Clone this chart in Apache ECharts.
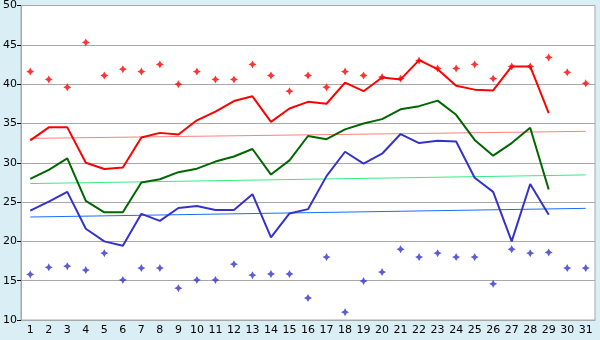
<!DOCTYPE html>
<html>
<head>
<meta charset="utf-8">
<script src="https://cdn.jsdelivr.net/npm/echarts@6/dist/echarts.min.js"></script>
<style>
  html, body { margin: 0; padding: 0; background: #daeef5; }
  #container { width: 600px; height: 340px; }
</style>
</head>
<body>
<div id="container"></div>
<script>
var days = ['1','2','3','4','5','6','7','8','9','10','11','12','13','14','15','16',
            '17','18','19','20','21','22','23','24','25','26','27','28','29','30','31']

// daily lines (1-29)
var maxLine = [32.85, 34.5, 34.5, 30.0, 29.2, 29.4, 33.2, 33.8, 33.6, 35.4, 36.5, 37.85, 38.45, 35.2, 36.9,
               37.75, 37.5, 40.2, 39.1, 40.85, 40.6, 43.05, 41.9, 39.8, 39.3, 39.2, 42.25, 42.25, 36.3]
var meanLine = [27.95, 29.1, 30.55, 25.15, 23.7, 23.7, 27.5, 27.9, 28.8, 29.25, 30.15, 30.8, 31.75, 28.5, 30.3,
                33.4, 33.0, 34.25, 35.0, 35.55, 36.8, 37.2, 37.9, 36.1, 32.9, 30.9, 32.5, 34.45, 26.6]
var minLine = [23.9, 25.05, 26.3, 21.6, 20.0, 19.45, 23.5, 22.6, 24.25, 24.5, 24.0, 24.0, 26.0, 20.5, 23.55,
               24.1, 28.3, 31.4, 29.9, 31.15, 33.65, 32.5, 32.8, 32.7, 28.1, 26.3, 20.0, 27.3, 23.4]

// record points (1-31)
var maxRecord = [41.6, 40.6, 39.6, 45.3, 41.1, 41.9, 41.6, 42.5, 40.0, 41.6, 40.6, 40.6, 42.5, 41.1, 39.1, 41.1,
                 39.6, 41.6, 41.1, 40.9, 40.7, 43.0, 42.0, 42.0, 42.5, 40.7, 42.25, 42.25, 43.4, 41.5, 40.1]
var minRecord = [15.8, 16.7, 16.85, 16.35, 18.5, 15.1, 16.6, 16.6, 14.05, 15.1, 15.1, 17.1, 15.7, 15.85, 15.85, 12.8,
                 18.0, 11.0, 14.95, 16.1, 19.0, 18.0, 18.5, 18.0, 18.0, 14.6, 19.0, 18.5, 18.6, 16.6, 16.6]

// trend lines: [start, end]
var maxTrend = [33.1, 34.0]
var meanTrend = [27.35, 28.45]
var minTrend = [23.1, 24.2]

var myChart = echarts.init(document.getElementById('container'))

var star = 'path://M0,-10 L3.5,-3.5 L10,0 L3.5,3.5 L0,10 L-3.5,3.5 L-10,0 L-3.5,-3.5Z'

function trend(t){
    return [[0, t[0]], [days.length - 1, t[1]]]
}

var option = {
    backgroundColor: '#daeef5',
    animation: false,
    grid: {
        left: 21, right: 5, top: 5, bottom: 20,
        show: true,
        backgroundColor: '#ffffff',
        borderColor: '#a8a8a8',
        borderWidth: 1
    },
    xAxis: {
        type: 'category',
        data: days,
        boundaryGap: true,
        axisLine: { lineStyle: { color: '#a8a8a8' } },
        axisTick: { alignWithLabel: true, length: 5, lineStyle: { color: '#000' } },
        axisLabel: { color: '#000', fontSize: 11, fontFamily: 'DejaVu Sans', margin: 5, interval: 0 },
        splitLine: { show: false }
    },
    yAxis: {
        type: 'value',
        min: 10, max: 50, interval: 5,
        axisLine: { show: true, lineStyle: { color: '#a8a8a8' } },
        axisTick: { show: true, length: 4, lineStyle: { color: '#000' } },
        axisLabel: { color: '#000', fontSize: 11, fontFamily: 'DejaVu Sans', margin: 4 },
        splitLine: { lineStyle: { color: '#a8a8a8', width: 1 } }
    },
    series: [
        { type: 'line', data: trend(maxTrend), symbol: 'none', lineStyle: { color: '#ff8080', width: 1 }, z: 1 },
        { type: 'line', data: trend(meanTrend), symbol: 'none', lineStyle: { color: '#33ee88', width: 1 }, z: 1 },
        { type: 'line', data: trend(minTrend), symbol: 'none', lineStyle: { color: '#1a6dff', width: 1 }, z: 1 },
        { type: 'line', data: maxLine, symbol: 'none', lineStyle: { color: '#ff0000', width: 2 }, z: 2 },
        { type: 'line', data: meanLine, symbol: 'none', lineStyle: { color: '#006600', width: 2 }, z: 2 },
        { type: 'line', data: minLine, symbol: 'none', lineStyle: { color: '#3333cc', width: 2 }, z: 2 },
        { type: 'scatter', data: maxRecord, symbol: star, symbolSize: 8, itemStyle: { color: '#ff0000' }, z: 3 },
        { type: 'scatter', data: minRecord, symbol: star, symbolSize: 8, itemStyle: { color: '#3333cc' }, z: 3 }
    ]
}
myChart.setOption(option, true)
</script>
</body>
</html>
